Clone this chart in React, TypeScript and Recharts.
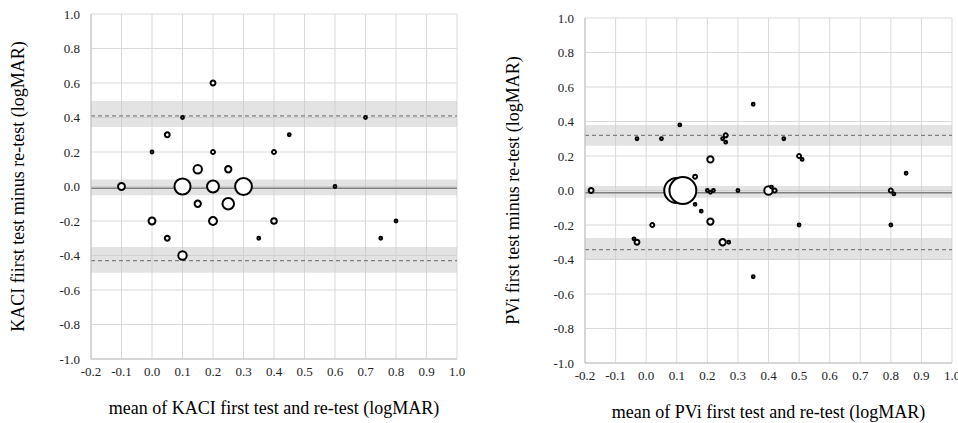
import { ScatterChart, Scatter, XAxis, YAxis, ZAxis, CartesianGrid, ReferenceArea, ReferenceLine } from "recharts"

const xTicks = [-0.2, -0.1, 0, 0.1, 0.2, 0.3, 0.4, 0.5, 0.6, 0.7, 0.8, 0.9, 1.0]
const yTicks = [-1.0, -0.8, -0.6, -0.4, -0.2, 0, 0.2, 0.4, 0.6, 0.8, 1.0]

// KACI: mean of both tests, difference, number of eyes at that point
const kaciMean = [-0.1, 0.0, 0.0, 0.05, 0.05, 0.1, 0.1, 0.1, 0.15, 0.15, 0.2, 0.2, 0.2, 0.2, 0.25, 0.25, 0.3, 0.35, 0.4, 0.4, 0.45, 0.6, 0.7, 0.75, 0.8]
const kaciDiff = [0, 0.2, -0.2, 0.3, -0.3, 0.4, 0, -0.4, 0.1, -0.1, 0.6, 0.2, 0, -0.2, 0.1, -0.1, 0, -0.3, 0.2, -0.2, 0.3, 0, 0.4, -0.3, -0.2]
const kaciCount = [6, 1, 6, 3, 3, 1, 33, 9, 9, 5, 3, 2, 18, 8, 5, 17, 36, 1, 2, 4, 1, 1, 1, 1, 1]
const kaciBias = -0.01
const kaciLoA = [-0.43, 0.41]
const kaciBiasCI = [-0.05, 0.04]
const kaciLowerCI = [-0.5, -0.35]
const kaciUpperCI = [0.345, 0.495]

// PVi
const pviMean = [-0.18, -0.03, 0.05, 0.11, -0.04, -0.03, 0.02, 0.1, 0.12, 0.16, 0.16, 0.18, 0.21, 0.21, 0.2, 0.21, 0.22, 0.25, 0.26, 0.26, 0.25, 0.27, 0.3, 0.35, 0.35, 0.4, 0.41, 0.42, 0.45, 0.5, 0.51, 0.5, 0.8, 0.81, 0.8, 0.85]
const pviDiff = [0, 0.3, 0.3, 0.38, -0.28, -0.3, -0.2, 0, 0, 0.08, -0.08, -0.12, 0.18, -0.18, 0, -0.01, 0, 0.3, 0.32, 0.28, -0.3, -0.3, 0, 0.5, -0.5, 0, 0.02, 0, 0.3, 0.2, 0.18, -0.2, 0, -0.02, -0.2, 0.1]
const pviCount = [3, 1, 1, 1, 1, 3, 2, 80, 92, 2, 1, 1, 5, 5, 1, 1, 1, 1, 2, 1, 5, 1, 1, 1, 1, 9, 1, 2, 1, 2, 1, 1, 2, 1, 1, 1]
const pviBias = -0.013
const pviLoA = [-0.343, 0.32]
const pviBiasCI = [-0.042, 0.026]
const pviLowerCI = [-0.403, -0.275]
const pviUpperCI = [0.26, 0.38]

const serif = "Liberation Serif"
const fmt = (v: number) => v.toFixed(1)
const tickStyle = { fontFamily: serif, fontSize: 13, fill: "#222" }

function toPoints(xs: number[], ys: number[], ns: number[]) {
  return xs.map((x, i) => ({ x, y: ys[i], n: ns[i] }))
}

function XTick(props: any) {
  return (
    <text x={props.x} y={props.y} dy="0.71em" textAnchor="middle" style={tickStyle}>
      {fmt(props.payload.value)}
    </text>
  )
}

function YTick(props: any) {
  return (
    <text x={props.x} y={props.y} dy="0.36em" textAnchor="end" style={tickStyle}>
      {fmt(props.payload.value)}
    </text>
  )
}

type Props = {
  points: { x: number; y: number; n: number }[]
  bias: number
  loa: number[]
  biasCI: number[]
  lowerCI: number[]
  upperCI: number[]
  xTitle: string
  yTitle: string
  width: number
  margin: { top: number; right: number; bottom: number; left: number }
  yAxisWidth: number
  xAxisHeight: number
  yTitleOffset: number
  xTitleOffset: number
}

function BlandAltman(p: Props) {
  return (
    <ScatterChart width={p.width} height={423} margin={p.margin}>
      <CartesianGrid stroke="#d9d9d9" />
      <ReferenceArea y1={p.upperCI[0]} y2={p.upperCI[1]} fill="#c8c8c8" fillOpacity={0.5} stroke="none" />
      <ReferenceArea y1={p.biasCI[0]} y2={p.biasCI[1]} fill="#c8c8c8" fillOpacity={0.5} stroke="none" />
      <ReferenceArea y1={p.lowerCI[0]} y2={p.lowerCI[1]} fill="#c8c8c8" fillOpacity={0.5} stroke="none" />
      <ReferenceLine y={p.loa[1]} stroke="#808080" strokeWidth={1.2} strokeDasharray="4 3" />
      <ReferenceLine y={p.bias} stroke="#808080" strokeWidth={1.5} />
      <ReferenceLine y={p.loa[0]} stroke="#808080" strokeWidth={1.2} strokeDasharray="4 3" />
      <XAxis
        type="number"
        dataKey="x"
        domain={[-0.2, 1.0]}
        ticks={xTicks}
        interval={0}
        stroke="#bfbfbf"
        tickLine={false}
        tickSize={0}
        tickMargin={8}
        height={p.xAxisHeight}
        tick={<XTick />}
        label={{ value: p.xTitle, position: "insideBottom", offset: p.xTitleOffset, style: { fill: "#000", fontSize: 18, fontFamily: serif } }}
      />
      <YAxis
        type="number"
        dataKey="y"
        domain={[-1, 1]}
        ticks={yTicks}
        interval={0}
        stroke="#bfbfbf"
        tickLine={false}
        tickSize={0}
        tickMargin={11}
        width={p.yAxisWidth}
        tick={<YTick />}
        label={{ value: p.yTitle, position: "insideLeft", angle: -90, offset: p.yTitleOffset, style: { fill: "#000", fontSize: 18, fontFamily: serif, textAnchor: "middle" } }}
      />
      <ZAxis type="number" dataKey="n" domain={[0, 100]} range={[0, 100 * Math.PI * 1.96]} />
      <Scatter data={p.points} fill="#fff" stroke="#000" strokeWidth={2} isAnimationActive={false} />
    </ScatterChart>
  )
}

export default function App() {
  return (
    <div style={{ position: "absolute", left: 0, top: 0, width: 958, height: 423, background: "#fff" }}>
      <div style={{ position: "absolute", left: 0, top: 0 }}>
        <BlandAltman
          points={toPoints(kaciMean, kaciDiff, kaciCount)}
          bias={kaciBias}
          loa={kaciLoA}
          biasCI={kaciBiasCI}
          lowerCI={kaciLowerCI}
          upperCI={kaciUpperCI}
          xTitle="mean of KACI first test and re-test (logMAR)"
          yTitle="KACI fiirst test minus re-test (logMAR)"
          width={480}
          margin={{ top: 14, right: 23, bottom: 0, left: 0 }}
          yAxisWidth={91}
          xAxisHeight={64}
          yTitleOffset={18}
          xTitleOffset={9}
        />
      </div>
      <div style={{ position: "absolute", left: 480, top: 0 }}>
        <BlandAltman
          points={toPoints(pviMean, pviDiff, pviCount)}
          bias={pviBias}
          loa={pviLoA}
          biasCI={pviBiasCI}
          lowerCI={pviLowerCI}
          upperCI={pviUpperCI}
          xTitle="mean of PVi first test and re-test (logMAR)"
          yTitle="PVi first test minus re-test (logMAR)"
          width={478}
          margin={{ top: 18, right: 6, bottom: 0, left: 0 }}
          yAxisWidth={105}
          xAxisHeight={60}
          yTitleOffset={33}
          xTitleOffset={5}
        />
      </div>
    </div>
  )
}
